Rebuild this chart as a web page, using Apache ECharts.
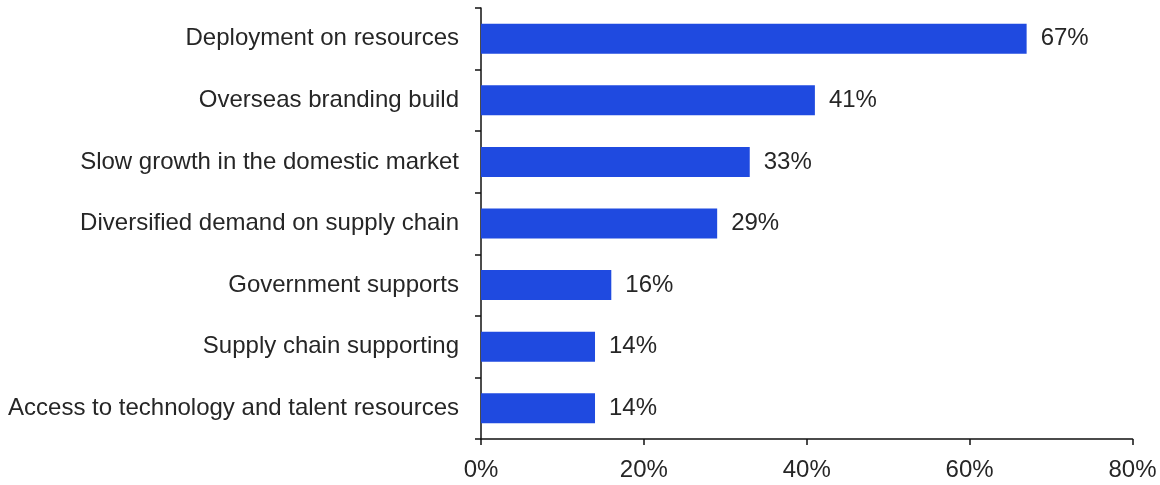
<!DOCTYPE html>
<html>
<head>
<meta charset="utf-8">
<style>
  html, body { margin: 0; padding: 0; background: #ffffff; }
  #chart { width: 1160px; height: 485px; }
</style>
<script src="https://cdn.jsdelivr.net/npm/echarts@6/dist/echarts.min.js"></script>
</head>
<body>
<div id="chart"></div>
<script>
// Reasons for going overseas, share of respondents (%)
const categories = [
  'Deployment on resources',
  'Overseas branding build',
  'Slow growth in the domestic market',
  'Diversified demand on supply chain',
  'Government supports',
  'Supply chain supporting',
  'Access to technology and talent resources'
];
const values = [67, 41, 33, 29, 16, 14, 14];
const xTicks = [0, 20, 40, 60, 80];

const FONT = 'Liberation Sans';
const TEXT = '#262626';
const chart = echarts.init(document.getElementById('chart'), null, { renderer: 'canvas' });

chart.setOption({
  animation: false,
  grid: { left: 481, right: 27.5, top: 8, bottom: 46, containLabel: false },
  xAxis: {
    type: 'value',
    min: xTicks[0],
    max: xTicks[xTicks.length - 1],
    interval: xTicks[1] - xTicks[0],
    axisLine: { show: true, lineStyle: { color: '#111', width: 1.5 } },
    axisTick: { show: true, length: 6, lineStyle: { color: '#111', width: 1.5 } },
    splitLine: { show: false },
    axisLabel: {
      formatter: v => v + '%',
      color: TEXT, fontFamily: FONT, fontSize: 24, margin: 19
    }
  },
  yAxis: {
    type: 'category',
    inverse: true,
    data: categories,
    axisLine: { show: true, lineStyle: { color: '#111', width: 1.5 } },
    axisTick: { show: true, length: 6, lineStyle: { color: '#111', width: 1.5 } },
    axisLabel: { color: TEXT, fontFamily: FONT, fontSize: 24, margin: 22, padding: [3, 0, 0, 0] }
  },
  series: [{
    type: 'bar',
    data: values,
    barWidth: 30,
    itemStyle: { color: '#1f4ae0' },
    label: {
      show: true,
      position: 'right',
      distance: 14,
      padding: [3, 0, 0, 0],
      formatter: p => p.value + '%',
      color: TEXT, fontFamily: FONT, fontSize: 24
    }
  }]
});
</script>
</body>
</html>
